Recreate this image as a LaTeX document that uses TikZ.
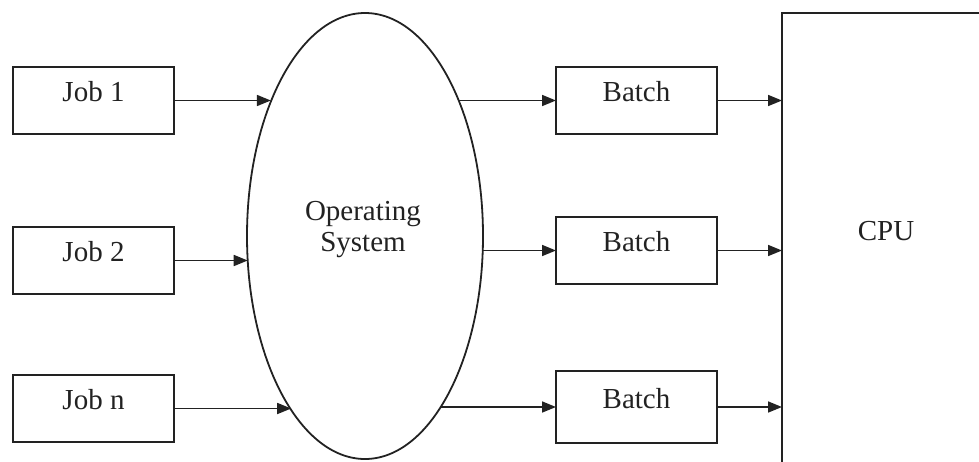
\documentclass[tikz,border=0pt]{standalone}
\usepackage{fontspec}
\setmainfont{Liberation Serif}
\usetikzlibrary{shapes.geometric,arrows.meta}
\definecolor{ink}{HTML}{222222}
\tikzset{
  every node/.style={font=\fontsize{29pt}{31pt}\selectfont, text=ink},
  box/.style={draw=ink, line width=1.8pt, rectangle, inner sep=0pt, outer sep=0pt,
              minimum width=161pt, minimum height=67pt, text height=0.68em, text depth=0.48em},
  osell/.style={draw=ink, line width=1.8pt, ellipse, inner sep=0pt, outer sep=0pt,
                minimum width=236pt, minimum height=446pt},
  arr/.style={draw=ink, line width=1.7pt, -{Triangle[length=14pt,width=11pt]}}
}
\begin{document}
\begin{tikzpicture}[x=1pt,y=-1pt]
  \useasboundingbox (0,0) rectangle (979,461);
  \clip (0,0) rectangle (979,461);

  % job queue
  \node[box] (job1) at (93.5,100.5) {Job 1};
  \node[box] (job2) at (93.5,260.5) {Job 2};
  \node[box] (jobn) at (93.5,408.5) {Job n};

  % operating system
  \node[osell] (os) at (365,236) {};
  \node[align=center] (ostext) at (363,230) {Operating\\System};

  % batches
  \node[box] (batch1) at (636.5,100.5) {Batch};
  \node[box] (batch2) at (636.5,250.5) {Batch};
  \node[box, minimum height=72pt] (batch3) at (636.5,407) {Batch};

  % processor (runs off the right and bottom edges)
  \node[draw=ink, line width=1.8pt, rectangle, inner sep=0pt, outer sep=0pt,
        minimum width=218pt, minimum height=470pt,
        label={[name=cputext, xshift=-5pt, yshift=17pt]center:CPU}] (cpu) at (891,248) {};

  % jobs into the operating system
  \draw[arr] (job1.east) -- (job1.east -| os.125);
  \draw[arr] (job2.east) -- (job2.east -| os.192);
  \draw[arr] (jobn.east) -- (jobn.east -| os.247);

  % operating system into batches
  \draw[arr] (batch1.west -| os.55) -- (batch1.west);
  \draw[arr] (batch2.west -| os.-7) -- (batch2.west);
  \draw[arr] (batch3.west -| os.-66) -- (batch3.west);

  % batches into the processor
  \draw[arr] (batch1.east) -- (batch1.east -| cpu.west);
  \draw[arr] (batch2.east) -- (batch2.east -| cpu.west);
  \draw[arr] (batch3.east) -- (batch3.east -| cpu.west);
\end{tikzpicture}
\end{document}
